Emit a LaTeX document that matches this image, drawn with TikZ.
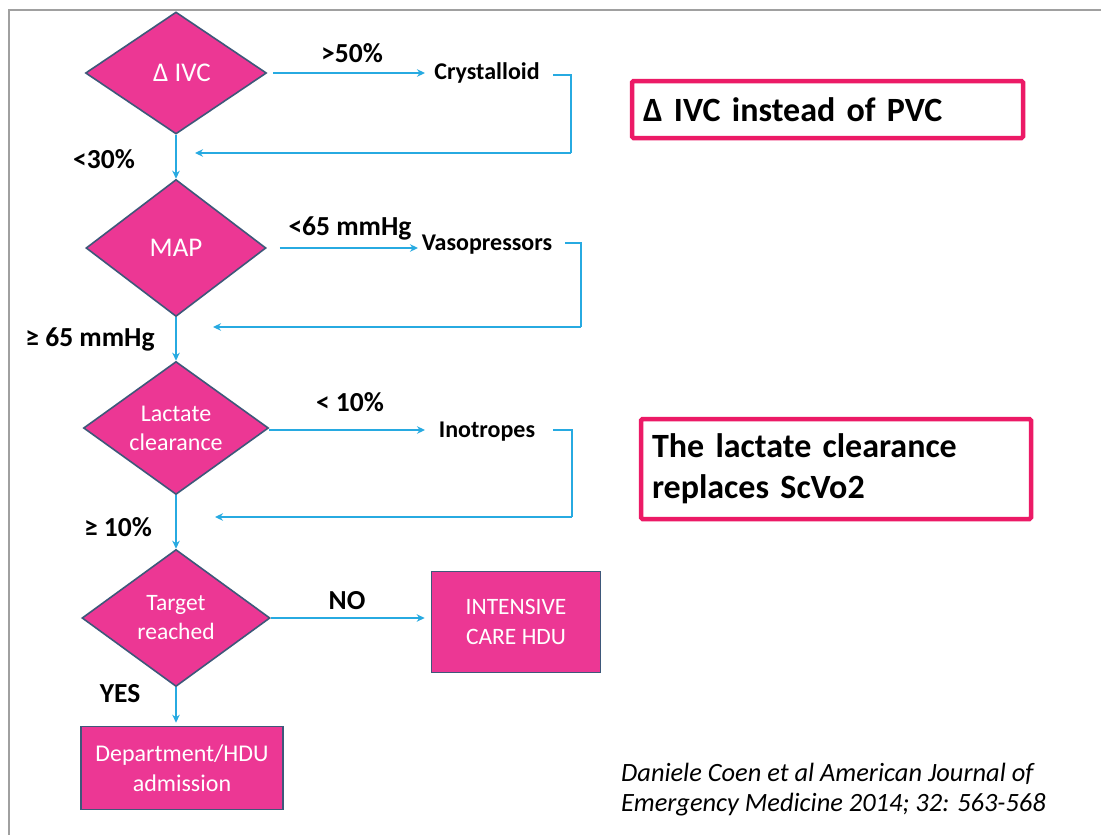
\documentclass[tikz,border=0pt]{standalone}
\usepackage{fontspec}
\setmainfont{Carlito}
\usetikzlibrary{shapes.geometric,arrows.meta}
\definecolor{dpink}{RGB}{236,55,148}
\definecolor{dborder}{RGB}{62,88,122}
\definecolor{arrblue}{RGB}{39,170,225}
\definecolor{boxred}{RGB}{236,26,102}
\definecolor{framegray}{RGB}{160,160,160}
\tikzset{
  dia/.style={diamond, draw=dborder, line width=1.6pt, fill=dpink, text=white, inner sep=0pt, aspect=1.5, align=center, font=\fontsize{27}{29}\selectfont},
  pbox/.style={rectangle, draw=dborder, line width=1.6pt, fill=dpink, text=white, inner sep=0pt, align=center, font=\fontsize{24}{30}\selectfont},
  lbl/.style={font=\bfseries\fontsize{27.5}{30}\selectfont, inner sep=0pt},
  act/.style={font=\bfseries\fontsize{24}{28}\selectfont, inner sep=0pt},
  conn/.style={draw=arrblue, line width=2.4pt},
  arr/.style={conn, -{Stealth[length=8pt,width=7.5pt]}},
  note/.style={draw=boxred, line width=4.5pt, rounded corners=1.5pt, font=\bfseries\fontsize{34}{41}\selectfont, align=left, inner xsep=11pt, anchor=center},
}
\begin{document}
\begin{tikzpicture}[x=1pt,y=-1pt]
\useasboundingbox (0,0) rectangle (1101,835);
\fill[white] (0,0) rectangle (1101,835);
\draw[framegray, line width=1.5pt] (9,840) -- (9,10) -- (1106,10);

% diamonds
\node[dia, minimum width=181pt, minimum height=122pt] (d1) at (176,73) {\hspace*{12pt}Δ IVC};
\node[dia, minimum width=180pt, minimum height=137pt] (d2) at (176,248) {MAP};
\node[dia, minimum width=185pt, minimum height=133pt, font=\fontsize{24}{29}\selectfont] (d3) at (176,428) {Lactate\\clearance};
\node[dia, minimum width=188pt, minimum height=137pt, font=\fontsize{23.5}{29}\selectfont] (d4) at (176,618) {Target\\reached};

% boxes
\node[pbox, minimum width=202pt, minimum height=83pt] (dept) at (182,768) {Department/HDU\\admission};
\node[pbox, minimum width=169pt, minimum height=101pt, font=\fontsize{23.5}{30}\selectfont] (icu) at (516,622) {INTENSIVE\\CARE HDU};

% action texts
\node[act] (crys) at (487,73) {Crystalloid};
\node[act] (vaso) at (487,245) {Vasopressors};
\node[act] (ino) at (487,432) {Inotropes};

% labels
\node[lbl] (l1) at (352,53) {>50\%};
\node[lbl] (l2) at (104,159) {<30\%};
\node[lbl] (l3) at (350,228) {<65 mmHg};
\node[lbl] (l4) at (90,339) {≥ 65 mmHg};
\node[lbl] (l5) at (350,402) {< 10\%};
\node[lbl] (l6) at (118,527) {≥ 10\%};
\node[lbl] (l7) at (347,601) {NO};
\node[lbl] (l8) at (120,694) {YES};

% coordinates of the feedback loops
\coordinate (a1) at (425,73);  \coordinate (s1) at (553,75);  \coordinate (c1) at (571,153); \coordinate (r1) at (195,153);
\coordinate (a2) at (418,248); \coordinate (s2) at (565,243); \coordinate (c2) at (581,327); \coordinate (r2) at (213,327);
\coordinate (a3) at (425,430); \coordinate (s3) at (553,430); \coordinate (c3) at (572,517); \coordinate (r3) at (215,517);

% connectors: right branches
\draw[arr] ([xshift=6pt]d1.east) -- (a1);
\draw[conn] (s1) -| (c1);
\draw[arr] (c1) -- (r1);

\draw[arr] ([xshift=13pt]d2.east) -- (a2);
\draw[conn] (s2) -| (c2);
\draw[arr] (c2) -- (r2);

\draw[arr] (d3.east |- a3) -- (a3);
\draw[conn] (s3) -| (c3);
\draw[arr] (c3) -- (r3);

\draw[arr, shorten >=6pt] (d4.east) -- (d4.east -| icu.west);

% connectors: down
\draw[arr] (d1.south) -- (d2.north);
\draw[arr] (d2.south) -- (d3.north);
\draw[arr] (d3.south) -- (d4.north);
\draw[arr, shorten >=3pt] (d4.south) -- (d4.south |- dept.north);

% notes
\node[note, text width=369pt, minimum height=57pt] (n1) at (827.5,109.5) {Δ IVC instead of PVC};
\node[note, text width=368pt, minimum height=100pt] (n2) at (836,469) {The lactate clearance\\replaces ScVo2};

% citation
\node[anchor=west, align=left, inner sep=0pt, font=\itshape\fontsize{26.4}{30}\selectfont] (cite) at (621,790) {Daniele Coen et al American Journal of\\Emergency Medicine 2014; 32: 563-568};
\end{tikzpicture}
\end{document}
